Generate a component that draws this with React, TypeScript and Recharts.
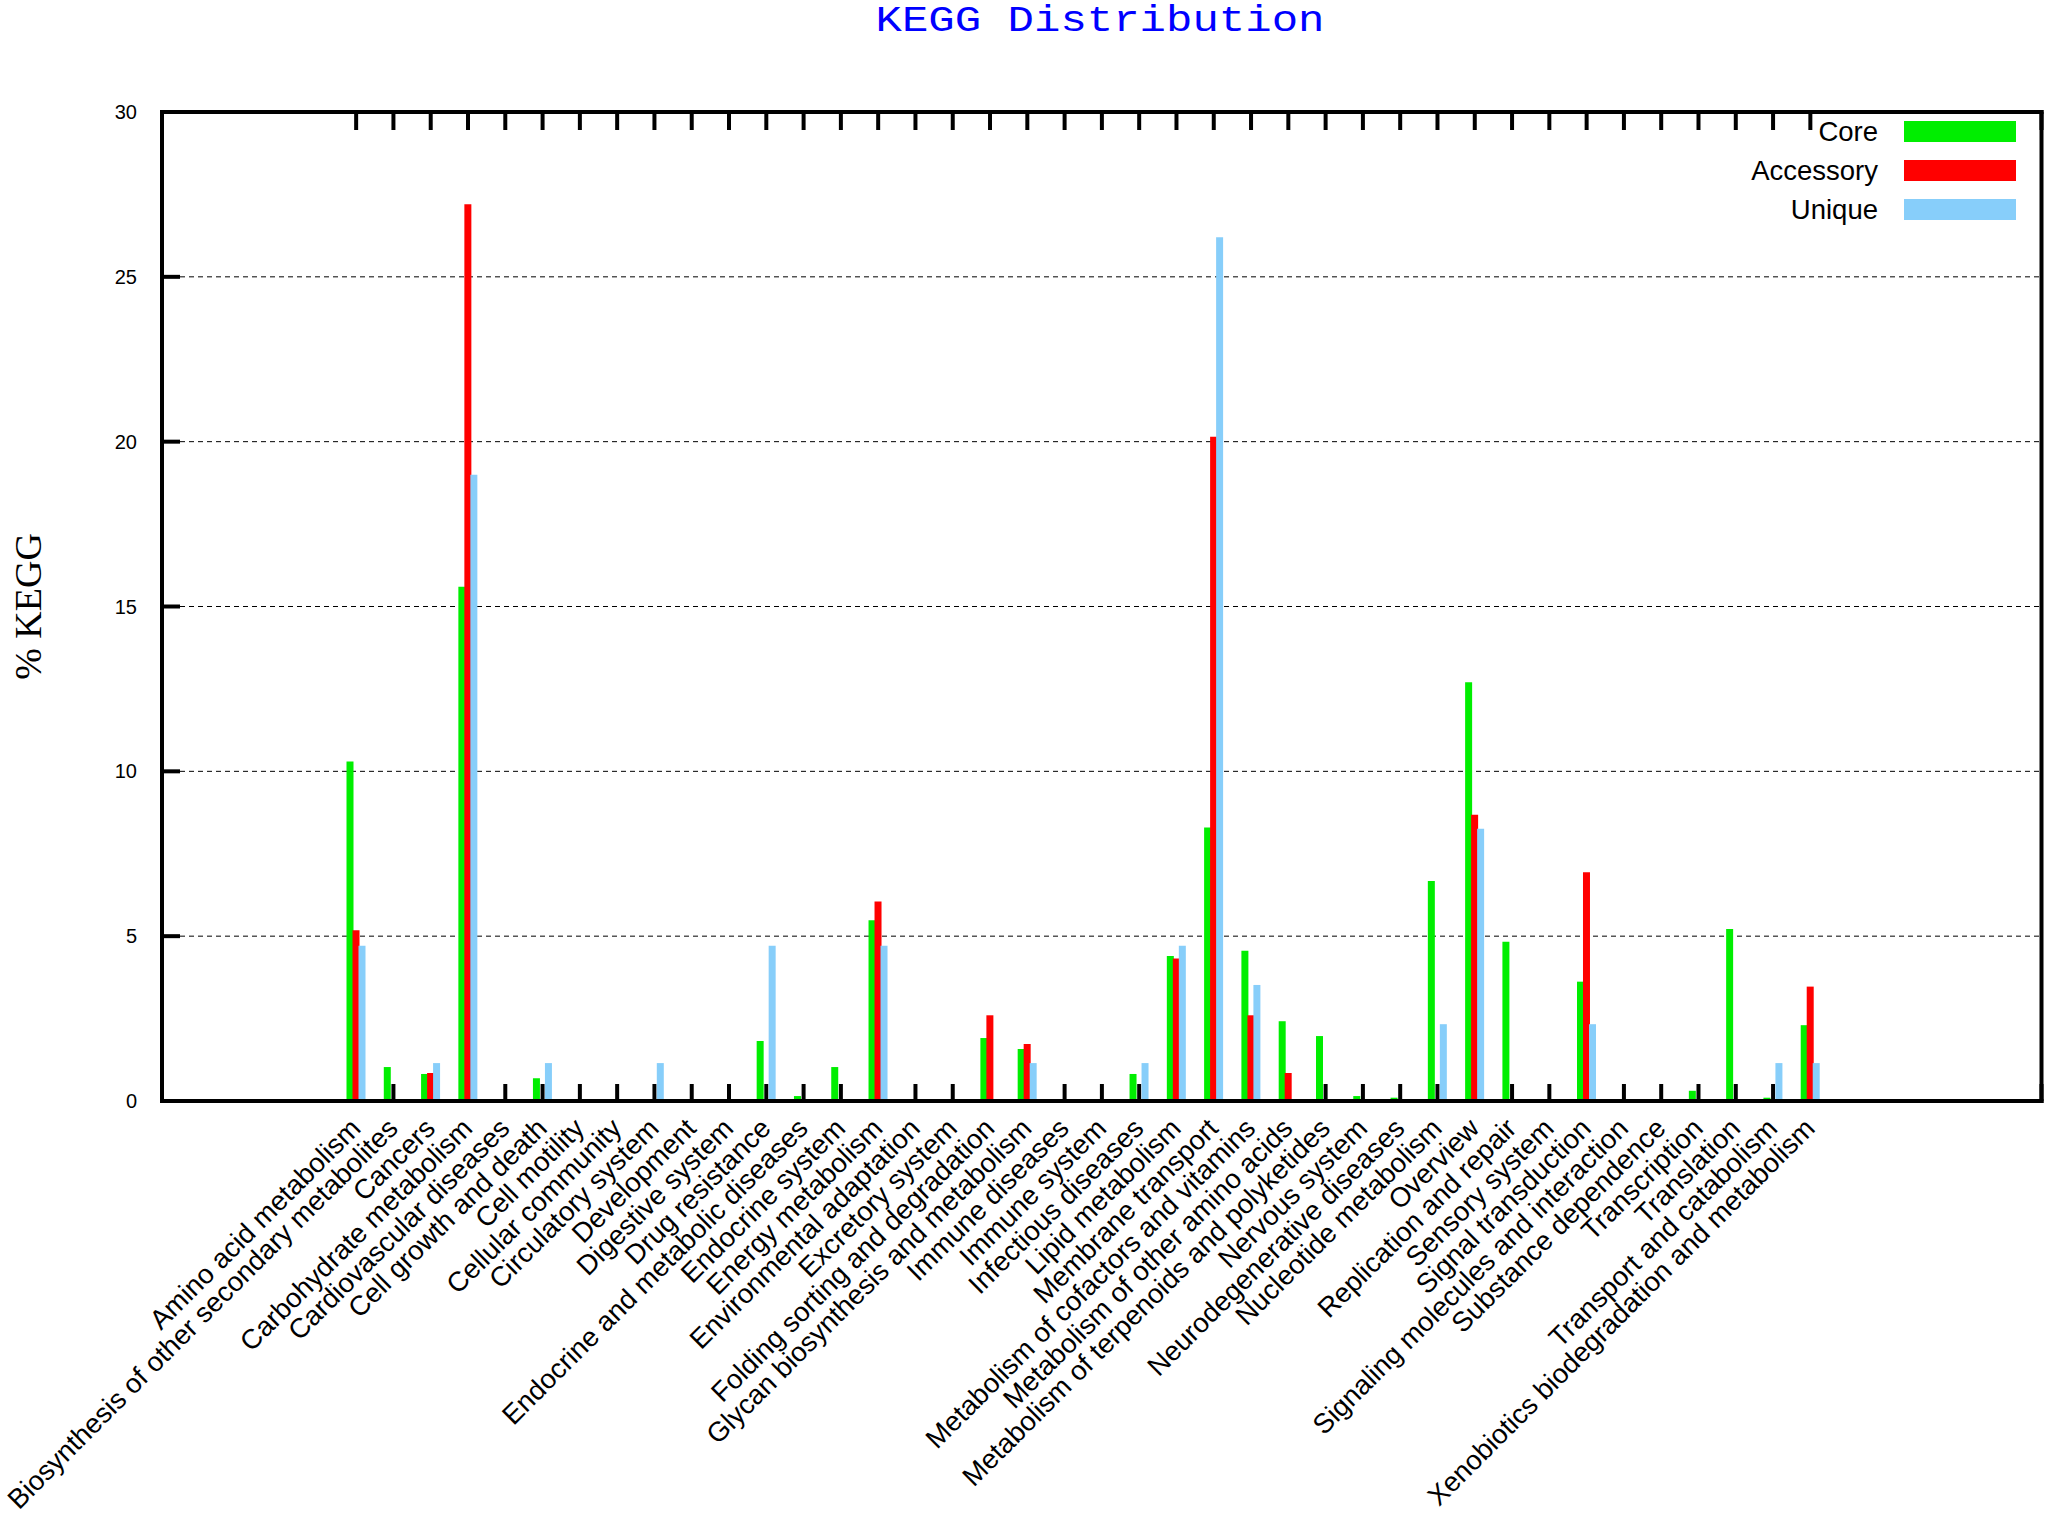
import { BarChart, Bar, XAxis, YAxis, CartesianGrid, Legend } from 'recharts';

const categories = [
  'Amino acid metabolism',
  'Biosynthesis of other secondary metabolites',
  'Cancers',
  'Carbohydrate metabolism',
  'Cardiovascular diseases',
  'Cell growth and death',
  'Cell motility',
  'Cellular community',
  'Circulatory system',
  'Development',
  'Digestive system',
  'Drug resistance',
  'Endocrine and metabolic diseases',
  'Endocrine system',
  'Energy metabolism',
  'Environmental adaptation',
  'Excretory system',
  'Folding sorting and degradation',
  'Glycan biosynthesis and metabolism',
  'Immune diseases',
  'Immune system',
  'Infectious diseases',
  'Lipid metabolism',
  'Membrane transport',
  'Metabolism of cofactors and vitamins',
  'Metabolism of other amino acids',
  'Metabolism of terpenoids and polyketides',
  'Nervous system',
  'Neurodegenerative diseases',
  'Nucleotide metabolism',
  'Overview',
  'Replication and repair',
  'Sensory system',
  'Signal transduction',
  'Signaling molecules and interaction',
  'Substance dependence',
  'Transcription',
  'Translation',
  'Transport and catabolism',
  'Xenobiotics biodegradation and metabolism',
];

const core = [
  10.3, 1.03, 0.82, 15.6, 0, 0.69, 0, 0, 0, 0,
  0, 1.82, 0.15, 1.03, 5.48, 0.04, 0, 1.91, 1.58, 0.04,
  0, 0.82, 4.4, 8.3, 4.56, 2.42, 1.97, 0.15, 0.1, 6.67,
  12.7, 4.83, 0, 3.62, 0, 0, 0.31, 5.22, 0.1, 2.3,
];

const accessory = [
  5.18, 0, 0.85, 27.2, 0, 0, 0, 0, 0, 0,
  0, 0, 0, 0, 6.05, 0, 0, 2.6, 1.73, 0,
  0, 0, 4.32, 20.15, 2.6, 0.85, 0, 0, 0, 0,
  8.68, 0, 0, 6.94, 0, 0, 0, 0, 0, 3.47,
];

const unique = [
  4.71, 0, 1.15, 19.0, 0, 1.15, 0, 0, 1.15, 0,
  0, 4.71, 0, 0, 4.71, 0, 0, 0, 1.15, 0,
  0, 1.15, 4.71, 26.2, 3.52, 0, 0, 0, 0, 2.33,
  8.26, 0, 0, 2.33, 0, 0, 0, 0, 1.15, 1.15,
];

const yTicks = [0, 5, 10, 15, 20, 25, 30];

const series = [
  { key: 'core', name: 'Core', color: '#00ee00' },
  { key: 'accessory', name: 'Accessory', color: '#ff0000' },
  { key: 'unique', name: 'Unique', color: '#87cefa' },
];

const data = categories.map((name, i) => ({
  name,
  core: core[i],
  accessory: accessory[i],
  unique: unique[i],
}));

const sans = '"Liberation Sans", Arial, sans-serif';

// rotated category label under the plot
function BottomTick(props: any) {
  const { x, y, payload } = props;
  const lx = x + 6;
  const ly = y + 29;
  return (
    <text
      x={lx}
      y={ly}
      transform={`rotate(-45 ${lx} ${ly})`}
      textAnchor="end"
      fontFamily={sans}
      fontSize={27.5}
      fill="#000"
    >
      {payload.value}
    </text>
  );
}

// x tick marks drawn with the grid so the bars sit on top of them
function XTickMarks(props: any) {
  const { x1, y1, y2 } = props;
  const top = Math.min(y1, y2);
  const bottom = Math.max(y1, y2);
  return (
    <g>
      <line x1={x1} x2={x1} y1={top} y2={top + 18} stroke="#000" strokeWidth={4} />
      <line x1={x1} x2={x1} y1={bottom} y2={bottom - 17} stroke="#000" strokeWidth={4} />
    </g>
  );
}

function LeftTick(props: any) {
  const { x, y, payload } = props;
  return (
    <g>
      <line x1={x} x2={x + 18} y1={y} y2={y} stroke="#000" strokeWidth={4} />
      <text x={x - 25} y={y} dy="0.35em" textAnchor="end" fontFamily={sans} fontSize={20} fill="#000">
        {payload.value}
      </text>
    </g>
  );
}

function RightTick(props: any) {
  const { x, y } = props;
  return <line x1={x - 18} x2={x} y1={y} y2={y} stroke="#000" strokeWidth={4} />;
}

function YLabel(props: any) {
  const vb = props.viewBox;
  const lx = vb.x + 41;
  const ly = vb.y + vb.height / 2;
  return (
    <text
      x={lx}
      y={ly}
      transform={`rotate(-90 ${lx} ${ly})`}
      textAnchor="middle"
      fontFamily='"Liberation Serif", "Times New Roman", serif'
      fontSize={38}
      fill="#000"
    >
      % KEGG
    </text>
  );
}

function LegendBox() {
  return (
    <div>
      {series.map((s) => (
        <div
          key={s.key}
          style={{ display: 'flex', alignItems: 'center', justifyContent: 'flex-end', height: 39 }}
        >
          <span style={{ fontFamily: sans, fontSize: 27.5, color: '#000', marginRight: 26 }}>{s.name}</span>
          <span style={{ display: 'inline-block', width: 112, height: 21, background: s.color }} />
        </div>
      ))}
    </div>
  );
}

const border = { stroke: '#000', strokeWidth: 4, strokeLinecap: 'square' as const };

export default function App() {
  return (
    <div style={{ position: 'absolute', left: 0, top: 0, width: 2047, height: 1517, background: '#fff' }}>
      <div
        style={{
          position: 'absolute',
          left: 700,
          top: 1,
          width: 800,
          textAlign: 'center',
          fontFamily: '"Liberation Mono", "Courier New", monospace',
          fontSize: 44,
          lineHeight: '36px',
          color: '#0000ff',
          transform: 'scaleY(0.86)',
          transformOrigin: '50% 30px',
          zIndex: 2,
        }}
      >
        KEGG Distribution
      </div>
      <BarChart
        width={2047}
        height={1517}
        data={data}
        barGap={-1}
        margin={{ top: 111, right: 4.5, bottom: 0, left: 0 }}
      >
        <CartesianGrid vertical={XTickMarks} stroke="#000" strokeDasharray="5 4" />
        <XAxis
          dataKey="name"
          height={416}
          interval={0}
          tickSize={0}
          tickMargin={0}
          padding={{ left: 175.5, right: 212.5 }}
          axisLine={border}
          tickLine={false}
          tick={BottomTick}
        />
        <XAxis
          xAxisId="top"
          orientation="top"
          dataKey="name"
          height={1}
          interval={0}
          tickSize={0}
          tickMargin={0}
          padding={{ left: 175.5, right: 212.5 }}
          axisLine={border}
          tickLine={false}
          tick={false}
        />
        <YAxis
          width={162}
          domain={[0, 30]}
          ticks={yTicks}
          tickSize={0}
          tickMargin={0}
          axisLine={border}
          tickLine={false}
          tick={LeftTick}
          label={YLabel}
        />
        <YAxis
          yAxisId="right"
          orientation="right"
          width={1}
          domain={[0, 30]}
          ticks={yTicks}
          tickSize={0}
          tickMargin={0}
          axisLine={border}
          tickLine={false}
          tick={RightTick}
        />
        <Legend
          layout="vertical"
          align="center"
          verticalAlign="middle"
          content={LegendBox}
          wrapperStyle={{ left: 1600, top: 112, width: 416 }}
        />
        {series.map((s) => (
          <Bar
            key={s.key}
            dataKey={s.key}
            name={s.name}
            fill={s.color}
            barSize={7}
            isAnimationActive={false}
          />
        ))}
      </BarChart>
    </div>
  );
}
